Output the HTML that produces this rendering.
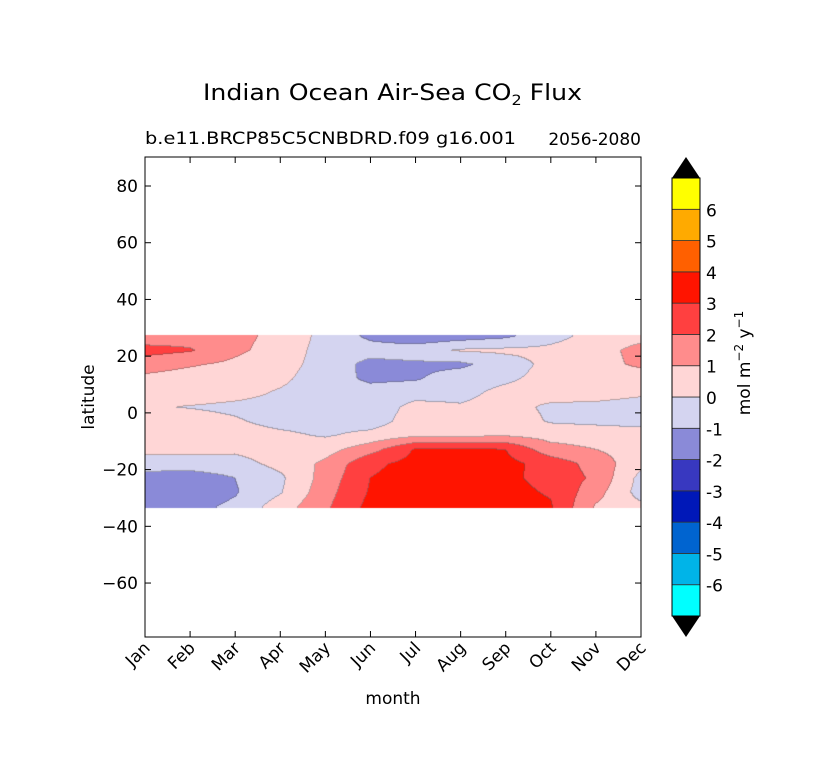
<!DOCTYPE html>
<html><head><meta charset="utf-8">
<style>
body{margin:0;background:#fff;}
#wrap{position:relative;width:837px;height:784px;overflow:hidden;font-family:"DejaVu Sans","Liberation Sans",sans-serif;}
canvas,svg{position:absolute;left:0;top:0;}
</style></head>
<body>
<div id="wrap">
<canvas id="field" width="837" height="784"></canvas>
<svg id="ov" width="837" height="784" xmlns="http://www.w3.org/2000/svg">
<text x="203" y="100" font-size="22" textLength="379" lengthAdjust="spacingAndGlyphs">Indian Ocean Air-Sea CO<tspan font-size="14" dy="5">2</tspan><tspan dy="-5"> Flux</tspan></text>
<text x="145" y="144" font-size="17" textLength="371" lengthAdjust="spacingAndGlyphs">b.e11.BRCP85C5CNBDRD.f09 g16.001</text>
<text x="641" y="145" font-size="17" text-anchor="end">2056-2080</text>
<text transform="translate(94,397) rotate(-90)" font-size="17" text-anchor="middle">latitude</text>
<text x="393" y="704" font-size="17" text-anchor="middle">month</text>
<text transform="translate(750,363) rotate(-90)" font-size="17" text-anchor="middle">mol m<tspan font-size="12" dy="-7">−2</tspan><tspan dy="7">  y</tspan><tspan font-size="12" dy="-7">−1</tspan></text>
<g id="axes"></g>
<g id="cbar"></g>
</svg>
</div>
<script>
const months=["Jan","Feb","Mar","Apr","May","Jun","Jul","Aug","Sep","Oct","Nov","Dec"];
const lats=[27,22,17,12,7,2,-3,-8,-13,-18,-23,-28,-33];
const yTicks=[80,60,40,20,0,-20,-40,-60];
const levels=[-7,-6,-5,-4,-3,-2,-1,0,1,2,3,4,5,6,7];
const levelColors=["#00ffff","#00b4e8","#0064d0","#0018b8","#3838c0","#8a8ad8","#d4d4f0","#ffd6d6","#ff8c8c","#ff4040","#ff1400","#ff6000","#ffaa00","#ffff00"];
// flux values: rows = months, columns = lats
const fJan=[1.3,2.4,1.4,0.8,0.5,0.1,0.3,0.5,0.3,-0.5,-1.4,-1.5,-1.3];
const fFeb=[1.5,2.1,1.1,0.6,0.5,-0.05,0.4,0.5,0.3,-0.5,-1.5,-1.6,-1.3];
const fMar=[1.3,1.2,0.8,0.5,0.3,-0.2,0.1,0.4,0.2,-0.4,-1.0,-1.1,-0.8];
const fApr=[0.7,0.6,0.4,0.2,-0.1,-0.3,-0.3,0.2,0.5,0.3,-0.2,-0.1,0.5];
const fMay=[-0.3,-0.4,-0.4,-0.5,-0.5,-0.5,-0.4,-0.1,0.6,1.2,1.4,1.6,1.8];
const fJun=[-1.2,-0.6,-1.3,-1.2,-0.6,-0.6,-0.5,0.3,1.6,2.8,3.0,3.1,3.3];
const fJul=[-1.8,-0.4,-1.2,-1.1,-0.4,0.3,0.5,0.8,3.1,3.3,3.4,3.3,3.5];
const fAug=[-1.5,0.1,-1.2,-0.5,-0.3,0.1,0.5,0.8,3.2,3.4,3.5,3.4,3.5];
const fSep=[-1.2,0.2,-0.5,-0.2,0.3,0.4,0.6,0.9,3.0,3.3,3.2,3.3,3.4];
const fOct=[-0.3,0.2,0.3,0.4,0.5,-0.2,-0.1,0.6,1.4,2.6,2.7,2.9,3.1];
const fNov=[0.3,0.5,0.6,0.6,0.5,-0.3,-0.2,0.5,1.0,1.6,1.8,1.4,0.9];
const fDec=[0.6,1.4,1.2,0.4,0.2,-0.5,-0.3,0.4,0.5,0.3,-0.3,-0.4,0.2];
const flux=[fJan,fFeb,fMar,fApr,fMay,fJun,fJul,fAug,fSep,fOct,fNov,fDec];

const X0=145,X1=641,Y0=157,Y1=637;
const xs=m=>X0+m*(X1-X0)/11;
const ys=lat=>186+(80-lat)*2.836;
const ylat=py=>80-(py-186)/2.836;
const NS="http://www.w3.org/2000/svg";
function mk(tag,attrs,parent){const e=document.createElementNS(NS,tag);for(const k in attrs)e.setAttribute(k,attrs[k]);parent.appendChild(e);return e;}

const cv=document.getElementById('field'),ctx=cv.getContext('2d');
const latTop=lats[0]+0.5,latBot=lats[lats.length-1]-0.5;
const py0=Math.round(ys(latTop)),py1=Math.round(ys(latBot));
const W=X1-X0,H=py1-py0;
function val(m,lat){
  let mi=Math.min(Math.max(m,0),11);let m0=Math.min(Math.floor(mi),10),tm=mi-m0;
  let li=(lats[0]-lat)/(lats[0]-lats[lats.length-1])*(lats.length-1);
  li=Math.min(Math.max(li,0),lats.length-1);let l0=Math.min(Math.floor(li),lats.length-2),tl=li-l0;
  const a=flux[m0][l0],b=flux[m0+1][l0],c=flux[m0][l0+1],d=flux[m0+1][l0+1];
  return (a*(1-tm)+b*tm)*(1-tl)+(c*(1-tm)+d*tm)*tl;
}
function lev(v){let i=0;while(i<levels.length-2&&v>=levels[i+1])i++;return i;}
const L=[];
for(let j=0;j<H;j++){L.push([]);for(let i=0;i<W;i++){L[j].push(lev(val((i+0.5)/(W/11),ylat(py0+j+0.5))));}}
const img=ctx.createImageData(W,H);
function hex(h){return [parseInt(h.substr(1,2),16),parseInt(h.substr(3,2),16),parseInt(h.substr(5,2),16)];}
const rgb=levelColors.map(hex);
for(let j=0;j<H;j++)for(let i=0;i<W;i++){
  const k=L[j][i];let c=rgb[k].slice();
  const edge=(i+1<W&&L[j][i+1]!==k)||(j+1<H&&L[j+1][i]!==k);
  if(edge)c=c.map(x=>Math.round(x*0.6+80*0.4));
  const p=(j*W+i)*4;img.data[p]=c[0];img.data[p+1]=c[1];img.data[p+2]=c[2];img.data[p+3]=255;
}
ctx.putImageData(img,X0,py0);

const ax=document.getElementById('axes');
const frame=mk('rect',{x:X0,y:Y0,width:W,height:Y1-Y0,fill:'none',stroke:'#000','stroke-width':1},ax);

yTicks.forEach(t=>{
  const y=ys(t);
  mk('line',{x1:X0,x2:X0+6,y1:y,y2:y,stroke:'#000'},ax);
  mk('line',{x1:X1,x2:X1-6,y1:y,y2:y,stroke:'#000'},ax);
  const tx=mk('text',{x:X0-7,y:y+6,'font-size':17,'text-anchor':'end'},ax);
  tx.textContent=t<0?'−'+(-t):String(t);
  
  
});
months.forEach((mn,i)=>{
  const x=xs(i);
  mk('line',{x1:x,x2:x,y1:Y1,y2:Y1-6,stroke:'#000'},ax);
  mk('line',{x1:x,x2:x,y1:Y0,y2:Y0+6,stroke:'#000'},ax);
  const tx=mk('text',{transform:`translate(${x+6},${Y1+12}) rotate(-45)`,'font-size':17,'text-anchor':'end'},ax);
  tx.textContent=mn;
  
  
});

const cb=document.getElementById('cbar');
const CX=672,CW=28,CT=178,CB=616,seg=(CB-CT)/levelColors.length;
const over=mk('polygon',{points:`${CX},${CT} ${CX+CW/2},157 ${CX+CW},${CT}`,fill:'#000'},cb);

const under=mk('polygon',{points:`${CX},${CB} ${CX+CW/2},637 ${CX+CW},${CB}`,fill:'#000'},cb);

levelColors.forEach((c,i)=>{
  const y=CB-(i+1)*seg;
  const r=mk('rect',{x:CX,y:y,width:CW,height:seg,fill:c,stroke:'#333','stroke-width':0.8},cb);
  
  
});
mk('rect',{x:CX,y:CT,width:CW,height:CB-CT,fill:'none',stroke:'#000','stroke-width':1},cb);
levels.slice(1,-1).forEach((lv,i)=>{
  const y=CB-(i+1)*seg;
  const tx=mk('text',{x:CX+CW+6,y:y+7,'font-size':17},cb);
  tx.textContent=String(lv);
  
  
});
</script>
</body></html>
